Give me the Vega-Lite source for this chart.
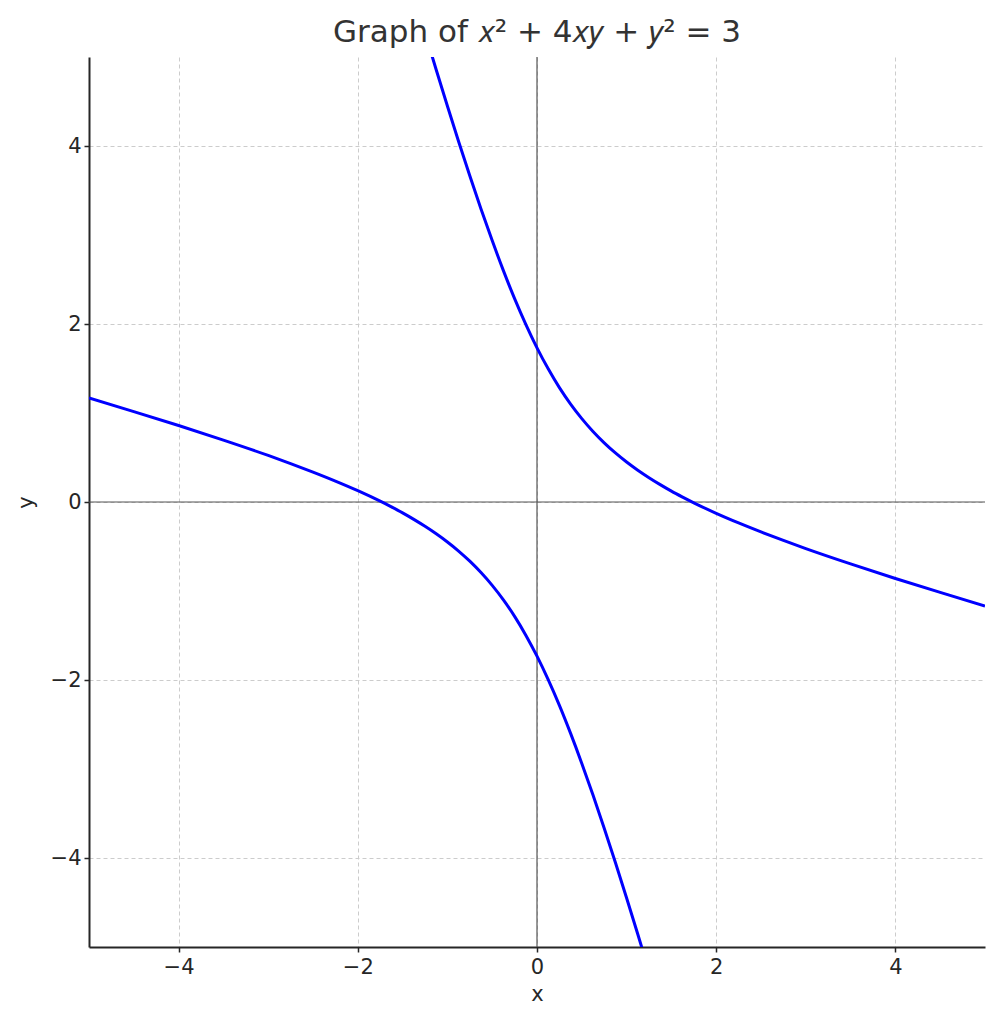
{
  "$schema": "https://vega.github.io/schema/vega-lite/v6.json",
  "width": 896,
  "height": 890,
  "autosize": {"type": "none"},
  "padding": {"left": 89, "top": 57, "right": 14, "bottom": 77},
  "background": "white",
  "config": {
    "font": "DejaVu Sans",
    "view": {"stroke": null},
    "axis": {
      "labelFont": "DejaVu Sans",
      "titleFont": "DejaVu Sans",
      "labelFontSize": 21,
      "titleFontSize": 21,
      "titleFontWeight": "normal",
      "labelColor": "#262626",
      "titleColor": "#262626",
      "domainColor": "#262626",
      "domainWidth": 2,
      "tickColor": "#262626",
      "tickWidth": 1.5,
      "tickSize": 5,
      "gridColor": "#cccccc",
      "gridDash": [4, 3],
      "gridWidth": 1,
      "format": "d"
    }
  },
  "title": {
    "text": "Graph of 𝑥² + 4𝑥𝑦 + 𝑦² = 3",
    "fontSize": 31,
    "font": "DejaVu Sans",
    "fontWeight": "normal",
    "color": "#333333",
    "offset": 7
  },
  "datasets": {
    "curve": [
      {"branch": "upper", "x": -1.25, "y": 5.273},
      {"branch": "upper", "x": -1.125, "y": 4.857},
      {"branch": "upper", "x": -1.0, "y": 4.449},
      {"branch": "upper", "x": -0.875, "y": 4.051},
      {"branch": "upper", "x": -0.75, "y": 3.665},
      {"branch": "upper", "x": -0.625, "y": 3.293},
      {"branch": "upper", "x": -0.5, "y": 2.937},
      {"branch": "upper", "x": -0.375, "y": 2.6},
      {"branch": "upper", "x": -0.25, "y": 2.285},
      {"branch": "upper", "x": -0.125, "y": 1.996},
      {"branch": "upper", "x": 0.0, "y": 1.732},
      {"branch": "upper", "x": 0.125, "y": 1.496},
      {"branch": "upper", "x": 0.25, "y": 1.285},
      {"branch": "upper", "x": 0.375, "y": 1.1},
      {"branch": "upper", "x": 0.5, "y": 0.937},
      {"branch": "upper", "x": 0.625, "y": 0.793},
      {"branch": "upper", "x": 0.75, "y": 0.665},
      {"branch": "upper", "x": 0.875, "y": 0.551},
      {"branch": "upper", "x": 1.0, "y": 0.449},
      {"branch": "upper", "x": 1.125, "y": 0.357},
      {"branch": "upper", "x": 1.25, "y": 0.273},
      {"branch": "upper", "x": 1.375, "y": 0.195},
      {"branch": "upper", "x": 1.5, "y": 0.122},
      {"branch": "upper", "x": 1.625, "y": 0.055},
      {"branch": "upper", "x": 1.75, "y": -0.009},
      {"branch": "upper", "x": 2.0, "y": -0.127},
      {"branch": "upper", "x": 2.25, "y": -0.235},
      {"branch": "upper", "x": 2.5, "y": -0.336},
      {"branch": "upper", "x": 2.75, "y": -0.432},
      {"branch": "upper", "x": 3.0, "y": -0.523},
      {"branch": "upper", "x": 3.5, "y": -0.695},
      {"branch": "upper", "x": 4.0, "y": -0.859},
      {"branch": "upper", "x": 4.5, "y": -1.016},
      {"branch": "upper", "x": 5.0, "y": -1.168},
      {"branch": "lower", "x": -5.0, "y": 1.168},
      {"branch": "lower", "x": -4.5, "y": 1.016},
      {"branch": "lower", "x": -4.0, "y": 0.859},
      {"branch": "lower", "x": -3.5, "y": 0.695},
      {"branch": "lower", "x": -3.0, "y": 0.523},
      {"branch": "lower", "x": -2.75, "y": 0.432},
      {"branch": "lower", "x": -2.5, "y": 0.336},
      {"branch": "lower", "x": -2.25, "y": 0.235},
      {"branch": "lower", "x": -2.0, "y": 0.127},
      {"branch": "lower", "x": -1.75, "y": 0.009},
      {"branch": "lower", "x": -1.625, "y": -0.055},
      {"branch": "lower", "x": -1.5, "y": -0.122},
      {"branch": "lower", "x": -1.375, "y": -0.195},
      {"branch": "lower", "x": -1.25, "y": -0.273},
      {"branch": "lower", "x": -1.125, "y": -0.357},
      {"branch": "lower", "x": -1.0, "y": -0.449},
      {"branch": "lower", "x": -0.875, "y": -0.551},
      {"branch": "lower", "x": -0.75, "y": -0.665},
      {"branch": "lower", "x": -0.625, "y": -0.793},
      {"branch": "lower", "x": -0.5, "y": -0.937},
      {"branch": "lower", "x": -0.375, "y": -1.1},
      {"branch": "lower", "x": -0.25, "y": -1.285},
      {"branch": "lower", "x": -0.125, "y": -1.496},
      {"branch": "lower", "x": 0.0, "y": -1.732},
      {"branch": "lower", "x": 0.125, "y": -1.996},
      {"branch": "lower", "x": 0.25, "y": -2.285},
      {"branch": "lower", "x": 0.375, "y": -2.6},
      {"branch": "lower", "x": 0.5, "y": -2.937},
      {"branch": "lower", "x": 0.625, "y": -3.293},
      {"branch": "lower", "x": 0.75, "y": -3.665},
      {"branch": "lower", "x": 0.875, "y": -4.051},
      {"branch": "lower", "x": 1.0, "y": -4.449},
      {"branch": "lower", "x": 1.125, "y": -4.857},
      {"branch": "lower", "x": 1.25, "y": -5.273}
    ],
    "zero": [{"v": 0}]
  },
  "layer": [
    {
      "data": {"name": "zero"},
      "mark": {"type": "rule", "color": "#555555", "strokeWidth": 1.2},
      "encoding": {
        "y": {"field": "v", "type": "quantitative", "scale": {"domain": [-5, 5]},
          "axis": {"title": "y", "values": [-4, -2, 0, 2, 4], "titlePadding": 14, "labelPadding": 3}}
      }
    },
    {
      "data": {"name": "zero"},
      "mark": {"type": "rule", "color": "#555555", "strokeWidth": 1.2},
      "encoding": {
        "x": {"field": "v", "type": "quantitative", "scale": {"domain": [-5, 5]},
          "axis": {"title": "x", "values": [-4, -2, 0, 2, 4], "titlePadding": 6, "labelPadding": 4}}
      }
    },
    {
      "data": {"name": "curve"},
      "mark": {"type": "line", "color": "#0000ff", "strokeWidth": 3, "clip": true, "interpolate": "monotone"},
      "encoding": {
        "x": {"field": "x", "type": "quantitative", "scale": {"domain": [-5, 5], "nice": false}},
        "y": {"field": "y", "type": "quantitative", "scale": {"domain": [-5, 5], "nice": false}},
        "detail": {"field": "branch"},
        "order": {"field": "x"}
      }
    }
  ]
}
